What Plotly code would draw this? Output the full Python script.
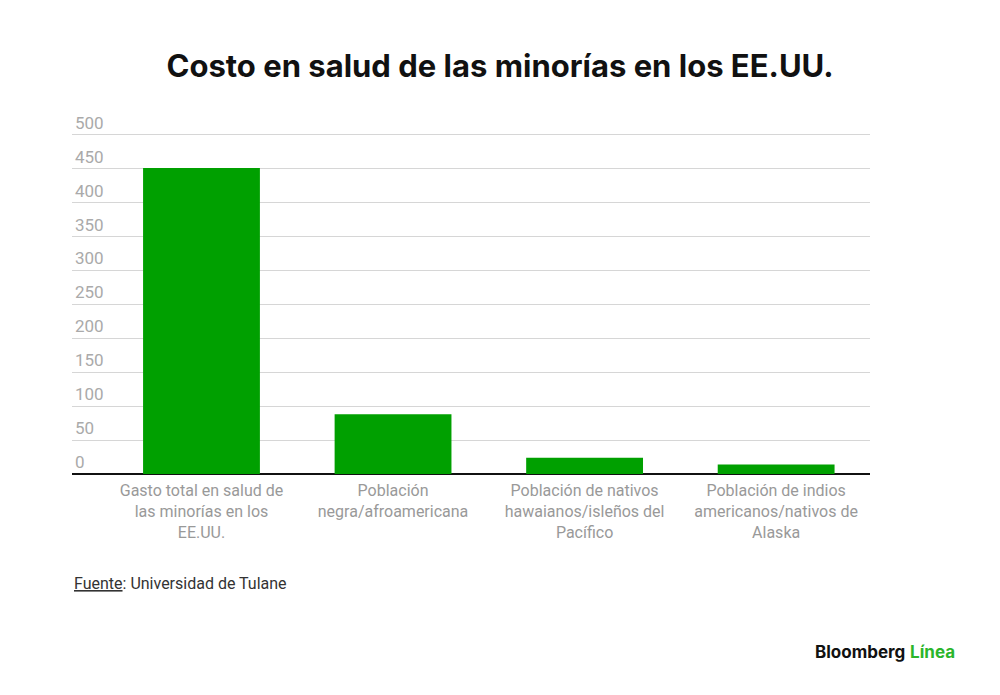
import plotly.graph_objects as go

categorias = [
    "Gasto total en salud de<br>las minorías en los<br>EE.UU.",
    "Población<br>negra/afroamericana",
    "Población de nativos<br>hawaianos/isleños del<br>Pacífico",
    "Población de indios<br>americanos/nativos de<br>Alaska",
]
costos = [451, 88, 24, 14]
ticks_y = [0, 50, 100, 150, 200, 250, 300, 350, 400, 450, 500]

verde = "#00a000"
gris = "#999999"

fig = go.Figure()
fig.add_trace(go.Bar(
    x=list(range(len(categorias))),
    y=costos,
    marker=dict(color=verde, line=dict(width=0)),
    width=0.61,
    hoverinfo="y",
))

# the page has an 8px body margin, so the figure is a bit smaller
fig.update_layout(
    width=992,
    height=687,
    autosize=False,
    paper_bgcolor="white",
    plot_bgcolor="white",
    showlegend=False,
    margin=dict(l=64, r=130, t=86, b=221),
    font=dict(family="Roboto, Liberation Sans, sans-serif", color=gris),
    title=dict(
        text="<b>Costo en salud de las minorías en los EE.UU.</b>",
        x=0.496, xanchor="center", xref="container",
        y=0.9156, yanchor="middle", yref="container",
        font=dict(family="Inter, Liberation Sans, sans-serif", size=31, color="#111111"),
    ),
)

fig.update_xaxes(
    tickmode="array",
    tickvals=list(range(len(categorias))),
    ticktext=categorias,
    range=[-0.676, 3.49],
    tickfont=dict(size=16, color=gris),
    ticklabelstandoff=5,
    showgrid=False,
    zeroline=False,
    showline=False,
    ticks="",
)
fig.update_yaxes(
    range=[0, 560],
    tickvals=ticks_y,
    ticklabelposition="inside top",
    tickfont=dict(size=17, color="#aaaaaa"),
    showgrid=True,
    gridcolor="#d6d6d6",
    gridwidth=1,
    zeroline=True,
    zerolinecolor="#111111",
    zerolinewidth=2,
    showline=False,
    ticks="",
)

fig.add_annotation(
    text="<u>Fuente</u>: Universidad de Tulane",
    xref="paper", yref="paper", x=0, y=-0.2873,
    xanchor="left", yanchor="middle", showarrow=False,
    font=dict(size=16, color="#333333", family="Roboto, Liberation Sans, sans-serif"),
)
fig.add_annotation(
    text="<b>Bloomberg</b> <b><span style='color:#2bb52b'>Línea</span></b>",
    xref="paper", yref="paper", x=1.109, y=-0.469,
    xanchor="right", yanchor="middle", showarrow=False,
    font=dict(size=17, color="#111111", family="Inter, Liberation Sans, sans-serif"),
)

fig.write_html("out.html")
